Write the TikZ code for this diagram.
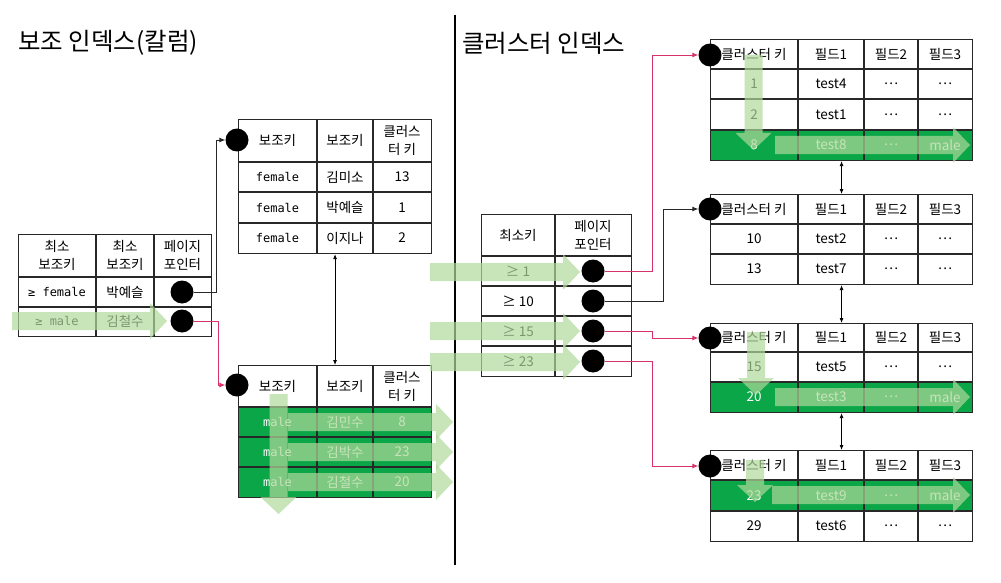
\documentclass[tikz,border=0pt]{standalone}
\usepackage{fontspec}
\setmainfont{Noto Sans CJK KR}
\setmonofont{DejaVu Sans Mono}
\usetikzlibrary{arrows.meta,calc}

\definecolor{rowgreen}{RGB}{10,166,72}
\definecolor{flowgreen}{RGB}{176,216,155}
\definecolor{linkred}{RGB}{214,51,108}
\definecolor{rulegray}{RGB}{40,40,40}

% translucent scan arrows: tail x, tip x, centre y
\newcommand{\flowright}[3]{%
  \fill[flow] (#1,#3-9) -- (#2-17,#3-9) -- (#2-17,#3-18) -- (#2,#3)
    -- (#2-17,#3+18) -- (#2-17,#3+9) -- (#1,#3+9) -- cycle;}
% centre x, tail y, tip y
\newcommand{\flowdown}[3]{%
  \fill[flow] (#1-9,#2) -- (#1-9,#3-17) -- (#1-18,#3-17) -- (#1,#3)
    -- (#1+18,#3-17) -- (#1+9,#3-17) -- (#1+9,#2) -- cycle;}

\begin{document}
\begin{tikzpicture}[x=1pt, y=-1pt,
  cell/.style={font=\fontsize{13.5}{18}\selectfont, align=center, inner sep=0pt},
  mono/.style={font=\ttfamily\fontsize{12}{14}\selectfont, inner sep=0pt},
  title/.style={font=\fontsize{24.5}{28}\selectfont, anchor=west, inner sep=0pt},
  rule/.style={draw=rulegray, line width=1.1pt},
  tbl/.style={rule, rectangle, inner sep=0pt, anchor=north west},
  ptrdot/.style={circle, fill=black, minimum size=23pt, inner sep=0pt},
  ptr/.style={draw=rulegray, line width=0.9pt, -{Latex[length=6pt,width=5pt]}},
  redptr/.style={ptr, draw=linkred},
  link/.style={draw=black, line width=0.8pt, {Latex[length=5pt,width=4pt]}-{Latex[length=5pt,width=4pt]}},
  flow/.style={fill=flowgreen, fill opacity=0.7}
]
\useasboundingbox (0,0) rectangle (1001,583);

% Titles and divider
\node[title] (ttlsec) at (18,43) {보조 인덱스(칼럼)};
\node[title] (ttlclu) at (462,43) {클러스터 인덱스};
\draw[line width=1.5pt] (455,15) -- (455,565);

% Green (matching) rows
\fill[rowgreen] (238,407) rectangle (431,497);
\fill[rowgreen] (710,130) rectangle (972,160);
\fill[rowgreen] (710,382) rectangle (972,412);
\fill[rowgreen] (710,480) rectangle (972,511);

% Secondary index: branch page
\node[tbl, minimum width=193pt, minimum height=102pt] (lt) at (18,234) {};
\foreach \x in {96,154} \draw[rule] (\x,234) -- (\x,336);
\foreach \y in {277,307} \draw[rule] (18,\y) -- (211,\y);
\node[cell] (lh1) at (57,255.5) {최소\\보조키};
\node[cell] (lh2) at (125,255.5) {최소\\보조키};
\node[cell] (lh3) at (182.5,255.5) {페이지\\포인터};
\node[mono] (lk1) at (57,292) {≥ female};
\node[cell] (ln1) at (125,292) {박예슬};
\node[mono] (lk2) at (57,321) {≥ male};
\node[cell] (ln2) at (125,321) {김철수};

% Secondary index: leaf pages
\node[tbl, minimum width=193pt, minimum height=134pt] (m1) at (238,119) {};
\node[tbl, minimum width=193pt, minimum height=132pt] (m2) at (238,365) {};
\foreach \x in {317,373} {
  \draw[rule] (\x,119) -- (\x,253);
  \draw[rule] (\x,365) -- (\x,497);
}
\foreach \y in {162,192,223,407,437,467} \draw[rule] (238,\y) -- (431,\y);
\foreach \y/\k/\n/\c/\col [count=\i] in {
  177/female/김미소/13/black, 207.5/female/박예슬/1/black, 238/female/이지나/2/black,
  422/male/김민수/8/white, 452/male/김박수/23/white, 482/male/김철수/20/white} {
  \node[mono, text=\col] (mk\i) at (277.5,\y) {\k};
  \node[cell, text=\col] (mn\i) at (345,\y) {\n};
  \node[cell, text=\col] (mc\i) at (402,\y) {\c};
}
\foreach \y [count=\i] in {140.5,386} {
  \node[cell] (mha\i) at (277.5,\y) {보조키};
  \node[cell] (mhb\i) at (345,\y) {보조키};
  \node[cell] (mhc\i) at (402,\y) {클러스\\터 키};
}

% Clustered index: branch page
\node[tbl, minimum width=150pt, minimum height=162pt] (ct) at (481,214) {};
\draw[rule] (555,214) -- (555,376);
\foreach \y in {256,286,316,346} \draw[rule] (481,\y) -- (631,\y);
\node[cell] (ch1) at (518,235) {최소키};
\node[cell] (ch2) at (593,235) {페이지\\포인터};
\foreach \y/\k [count=\i] in {271/1, 301/10, 331/15, 361/23}
  \node[cell] (ck\i) at (518,\y) {≥\ \k};

% Clustered index: data pages
\foreach \n/\top/\h in {1/39/121, 2/194/90, 3/323/89, 4/450/91} {
  \node[tbl, minimum width=262pt, minimum height=\h pt] (r\n) at (710,\top) {};
  \foreach \x in {798,864,918} \draw[rule] (\x,\top) -- (\x,\top+\h);
}
\foreach \y in {69,99,130,224,254,352,382,480,511} \draw[rule] (710,\y) -- (972,\y);
\foreach \y/\k/\f/\a/\b/\col [count=\i] in {
  54/클러스터 키/필드1/필드2/필드3/black,
  84/1/test4/⋯/⋯/black,
  114.5/2/test1/⋯/⋯/black,
  145/8/test8/⋯/male/white,
  209/클러스터 키/필드1/필드2/필드3/black,
  239/10/test2/⋯/⋯/black,
  269/13/test7/⋯/⋯/black,
  337.5/클러스터 키/필드1/필드2/필드3/black,
  367/15/test5/⋯/⋯/black,
  397/20/test3/⋯/male/white,
  465/클러스터 키/필드1/필드2/필드3/black,
  495.5/23/test9/⋯/male/white,
  526/29/test6/⋯/⋯/black} {
  \node[cell, text=\col] (rk\i) at (754,\y) {\k};
  \node[cell, text=\col] (rf\i) at (831,\y) {\f};
  \node[cell, text=\col] (ra\i) at (891,\y) {\a};
  \node[cell, text=\col] (rb\i) at (945,\y) {\b};
}

% Scan paths
\flowright{12}{167}{321}
\flowdown{278.5}{394}{514}
\foreach \y in {422,452,482} {\flowright{288}{453}{\y}}
\foreach \y in {272,331,362} {\flowright{430}{580}{\y}}
\flowdown{753.5}{55}{150}
\flowright{775}{970}{145}
\flowdown{756}{332}{395}
\flowright{775}{970}{397}
\flowdown{755}{460}{502}
\flowright{772}{970}{495}

% Page pointers
\node[ptrdot] (ld1) at (182,292) {};
\node[ptrdot] (ld2) at (182,321) {};
\node[ptrdot] (m1dot) at (237,140) {};
\node[ptrdot] (m2dot) at (237,385) {};
\foreach \y [count=\i] in {271,301,331,361} \node[ptrdot] (cd\i) at (593,\y) {};
\node[ptrdot] (r1dot) at (710,55) {};
\node[ptrdot] (r2dot) at (710,209) {};
\node[ptrdot] (r3dot) at (710,338) {};
\node[ptrdot] (r4dot) at (710,466) {};

\draw[ptr] (ld1.east) -- ++(23,0) |- (m1dot.west);
\draw[redptr] (ld2.east) -- ++(25,0) |- (m2dot.west);
\draw[redptr] (cd1.east) -- ++(47.5,0) |- (r1dot.west);
\draw[ptr] (cd2.east) -- ++(58.5,0) |- (r2dot.west);
\draw[redptr] (cd3.east) -- ++(47.5,0) |- (r3dot.west);
\draw[redptr] (cd4.east) -- ++(47.5,0) |- (r4dot.west);

% Sibling links
\draw[link] (m1.south) -- (m2.north);
\draw[link] (r1.south) -- (r2.north);
\draw[link] (r2.south) -- (r3.north);
\draw[link] (r3.south) -- (r4.north);
\end{tikzpicture}
\end{document}
